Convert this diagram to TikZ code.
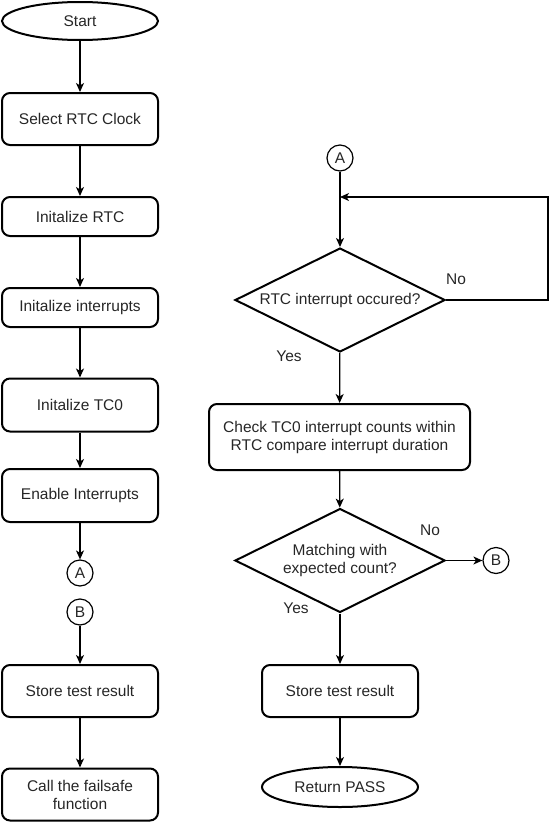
\documentclass[tikz,border=0pt]{standalone}
\usepackage{fontspec}
\setmainfont{Liberation Sans}
\usetikzlibrary{shapes.geometric,arrows.meta}
\begin{document}
\begin{tikzpicture}[x=1pt,y=-1pt,
  every node/.style={font=\fontsize{15.5}{18}\selectfont, text=black!85},
  proc/.style={draw=black, line width=2pt, rounded corners=8pt, minimum width=156pt, inner sep=0pt, align=center},
  term/.style={draw=black, line width=2pt, ellipse, minimum width=156pt, minimum height=38pt, inner sep=0pt},
  dec/.style={draw=black, line width=2pt, diamond, aspect=2, minimum width=210pt, minimum height=104pt, inner sep=0pt, align=center},
  conn/.style={draw=black, line width=1.2pt, circle, minimum size=26pt, inner sep=0pt},
  arr/.style={line width=1.3pt, -{Stealth[length=9pt,width=8pt,inset=2.5pt]}},
  ln/.style={line width=1.3pt},
  lab/.style={font=\fontsize{15.5}{18}\selectfont}]
\useasboundingbox (0,0) rectangle (559,822);

% left column
\node[term] (start) at (80,21) {Start};
\node[proc, minimum height=52pt] (sel) at (80,119) {Select RTC Clock};
\node[proc, minimum height=39pt] (irtc) at (80,216.5) {Initalize RTC};
\node[proc, minimum height=39pt] (iint) at (80,307.5) {Initalize interrupts};
\node[proc, minimum height=53pt] (itc) at (80,405) {Initalize TC0};
\node[proc, minimum height=53pt] (en) at (80,495.5) {Enable Interrupts};
\node[conn] (A1) at (80,573) {A};
\node[conn] (B1) at (80,612) {B};
\node[proc, minimum height=52pt] (st1) at (80,691) {Store test result};
\node[proc, minimum height=52pt] (fs) at (80,794.5) {Call the failsafe\\function};

\draw[arr] (start) -- (sel);
\draw[arr] (sel) -- (irtc);
\draw[arr] (irtc) -- (iint);
\draw[arr] (iint) -- (itc);
\draw[arr] (itc) -- (en);
\draw[arr] (en) -- (A1);
\draw[arr] (B1) -- (st1);
\draw[arr] (st1) -- (fs);

% right column
\node[conn] (A2) at (340,158) {A};
\node[dec] (d1) at (340,300) {RTC interrupt occured?};
\node[proc, minimum width=261pt, minimum height=66pt] (chk) at (339.5,437) {Check TC0 interrupt counts within\\RTC compare interrupt duration};
\node[dec] (d2) at (340,560.5) {Matching with\\expected count?};
\node[conn] (B2) at (496,560.5) {B};
\node[proc, minimum height=52pt] (st2) at (340,691) {Store test result};
\node[term, minimum height=40pt] (ret) at (340,787) {Return PASS};

\coordinate (j) at (340,197);
\coordinate (c1) at (548,300);
\coordinate (c2) at (548,197);

\draw[arr] (A2) -- (d1);
\draw[arr] (d1.east) -- (c1) -- (c2) -- (j);
\draw[arr] (d1) -- (chk);
\draw[arr] (chk) -- (d2);
\draw[arr] (d2.east) -- (B2);
\draw[arr] (d2) -- (st2);
\draw[arr] (st2) -- (ret);

\node[lab] (no1) at (456,279) {No};
\node[lab] (yes1) at (289,356) {Yes};
\node[lab] (no2) at (430,530) {No};
\node[lab] (yes2) at (296,608) {Yes};
\end{tikzpicture}
\end{document}
